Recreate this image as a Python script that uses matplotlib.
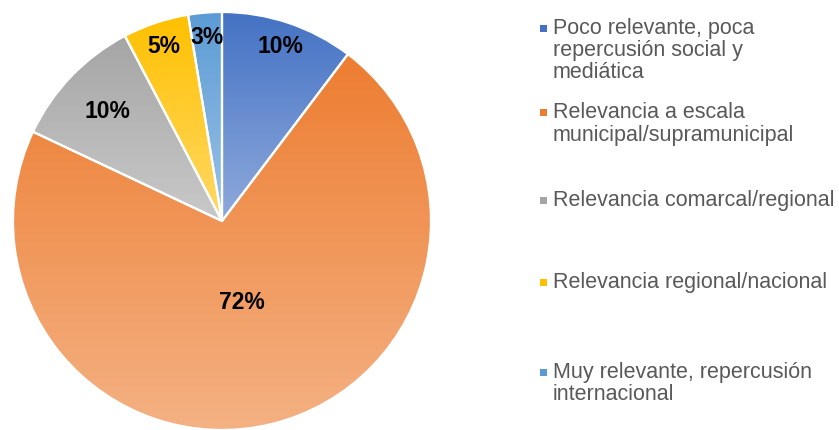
import numpy as np
import matplotlib
matplotlib.use("Agg")
import matplotlib.pyplot as plt
from matplotlib.colors import LinearSegmentedColormap
from matplotlib.patches import Rectangle

plt.rcParams['font.family'] = ['Liberation Sans', 'DejaVu Sans']

# datos (porcentajes)
categorias = [
    "Poco relevante, poca\nrepercusión social y\nmediática",
    "Relevancia a escala\nmunicipal/supramunicipal",
    "Relevancia comarcal/regional",
    "Relevancia regional/nacional",
    "Muy relevante, repercusión\ninternacional",
]
valores = [10.3, 71.8, 10.3, 5.1, 2.6]
etiquetas = ["10%", "72%", "10%", "5%", "3%"]

# colores: arriba -> abajo (degradado)
col_top = ["#4472C4", "#ED7D31", "#A5A5A5", "#FFC000", "#5B9BD5"]
col_bot = ["#8FAADC", "#F4B183", "#C9C9C9", "#FFD966", "#9DC3E6"]
dist_lbl = [0.88, 0.40, 0.76, 0.88, 0.88]

W, H = 839, 430
fig = plt.figure(figsize=(W / 100, H / 100), dpi=100)
ax = fig.add_axes([0, 0, 1, 1])

cx, cy, r = 222, H - 221, 209
wedges, _ = ax.pie(valores, center=(cx, cy), radius=r, startangle=90,
                   counterclock=False,
                   wedgeprops=dict(facecolor="none", edgecolor="white", linewidth=1.6))

for i, w in enumerate(wedges):
    bb = w.get_path().get_extents()
    cmap = LinearSegmentedColormap.from_list("g%d" % i, [col_bot[i], col_top[i]])
    grad = np.linspace(0, 1, 256).reshape(-1, 1)
    im = ax.imshow(grad, cmap=cmap, origin="lower", aspect="auto",
                   extent=(bb.x0, bb.x1, bb.y0, bb.y1), zorder=1)
    im.set_clip_path(w)
    w.set_zorder(2)
    ang = np.deg2rad((w.theta1 + w.theta2) / 2)
    ax.text(cx + dist_lbl[i] * r * np.cos(ang), cy + dist_lbl[i] * r * np.sin(ang),
            etiquetas[i], ha="center", va="center", fontsize=16.5,
            fontweight="bold", color="#000000", zorder=3)

ax.set_xlim(0, W)
ax.set_ylim(0, H)
ax.set_aspect("auto")
ax.axis("off")

# leyenda
tops = [22.7, 107.3, 195, 277.3, 366.7]
for i, cat in enumerate(categorias):
    y = H - tops[i]
    ax.add_patch(Rectangle((540, y - 9), 7, 7, facecolor=col_top[i],
                           edgecolor="none", clip_on=False))
    ax.text(553, y + 5, cat, ha="left", va="top", fontsize=15.5,
            color="#595959", linespacing=1.08)

fig.savefig("out.png", dpi=100)
